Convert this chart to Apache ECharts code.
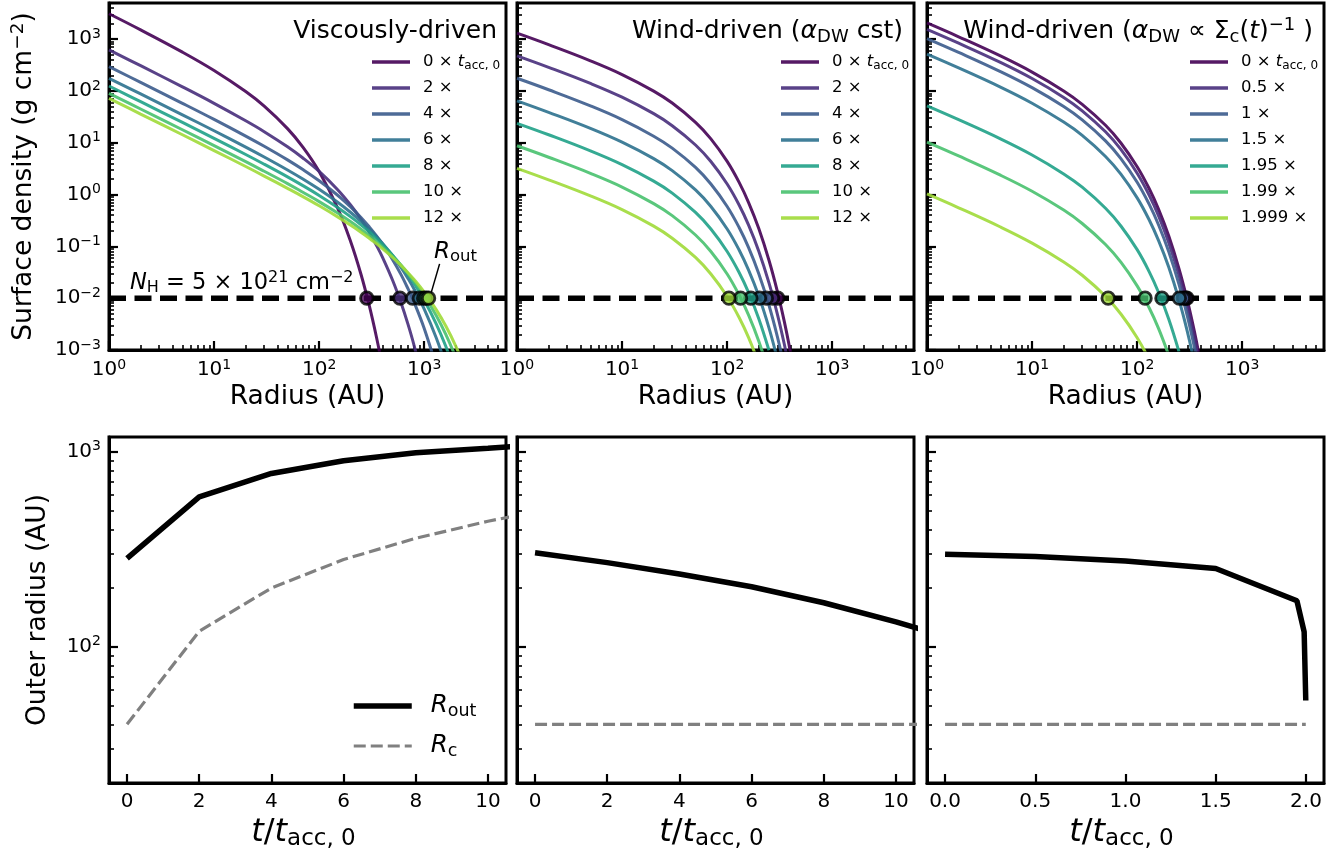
<!DOCTYPE html>
<html><head><meta charset="utf-8">
<script src="https://cdn.jsdelivr.net/npm/echarts@6/dist/echarts.min.js"></script>
<style>html,body{margin:0;padding:0;background:#fff}#c{width:1340px;height:858px}</style>
</head><body><div id="c"></div>
<script>
// ================= DATA =================
// Top row: surface density profiles, radius in AU
const viscRadius = [1,2,5,10,20,30,50,70,100,150,200,250,300,350,400,500,600,700,800,1000,1300,1600,2000,2500];
const viscSigma_t0  = [3100,1513,563,249,97.6,51.0,18.8,8.26,2.79,0.551,0.122,0.029,0.00716,0.00182,0.00047,0.000033];
const viscSigma_t2  = [621,308,120.3,57.8,26.6,16.4,8.37,5.09,2.80,1.245,0.624,0.334,0.186,0.106,0.0622,0.0222,0.00826,0.00316,0.00123,0.000197];
const viscSigma_t4  = [295,146.8,57.9,28.3,13.48,8.57,4.68,3.04,1.845,0.971,0.574,0.363,0.238,0.161,0.111,0.0554,0.0288,0.0153,0.00836,0.00259,0.00048];
const viscSigma_t6  = [176,87.7,34.7,17.1,8.26,5.32,2.99,2.0,1.262,0.712,0.451,0.305,0.215,0.156,0.115,0.066,0.0393,0.0241,0.0151,0.00616,0.00173,0.00051];
const viscSigma_t8  = [125,62.3,24.7,12.2,5.95,3.86,2.2,1.49,0.965,0.564,0.371,0.261,0.191,0.143,0.11,0.0677,0.0434,0.0287,0.0193,0.00915,0.00321,0.00119,0.00033];
const viscSigma_t10 = [90,44.9,17.85,8.83,4.33,2.82,1.63,1.11,0.733,0.44,0.298,0.215,0.161,0.124,0.0982,0.0638,0.0432,0.0301,0.0214,0.0113,0.00465,0.00203,0.000705,0.000199];
const viscSigma_t12 = [72,35.9,14.3,7.09,3.49,2.28,1.32,0.914,0.608,0.372,0.256,0.188,0.144,0.113,0.091,0.0614,0.0431,0.0311,0.023,0.0131,0.00601,0.00293,0.00118,0.000402];

const windRadius = [1,2,5,10,20,30,50,70,100,130,160,200,250,300,350,400,450];
const windSigma_t0  = [1306,784,383,208,99.7,58.5,24.8,11.9,4.37,1.72,0.702,0.221,0.0541,0.0137,0.00352,0.000915,0.00024];
const windSigma_t2  = [478,287,140,76.1,36.5,21.4,9.08,4.35,1.60,0.630,0.257,0.0809,0.0198,0.0050,0.00129,0.000335];
const windSigma_t4  = [176,105.7,51.6,28.0,13.4,7.88,3.34,1.60,0.590,0.232,0.0947,0.0298,0.0073,0.00184,0.000474];
const windSigma_t6  = [64.7,38.8,19.0,10.3,4.94,2.90,1.23,0.589,0.217,0.0852,0.0348,0.011,0.00268,0.000677];
const windSigma_t8  = [23.8,14.3,6.98,3.79,1.82,1.07,0.452,0.217,0.0797,0.0313,0.0128,0.00403,0.000987];
const windSigma_t10 = [8.76,5.26,2.57,1.40,0.669,0.392,0.166,0.0798,0.0294,0.0115,0.00471,0.00148,0.000363];
const windSigma_t12 = [3.22,1.93,0.944,0.513,0.246,0.144,0.0612,0.0293,0.0108,0.00424,0.00173,0.000545];

const dispRadius = [1,2,5,10,20,30,50,70,100,130,160,200,250,300,350,400,450];
const dispSigma_t0    = [2060,1115,475,232,100.4,55.4,21.8,9.92,3.46,1.31,0.518,0.158,0.0373,0.00917,0.00231,0.000588];
const dispSigma_t05   = [1545,836,356,174,75.3,41.5,16.3,7.44,2.59,0.980,0.388,0.118,0.028,0.00688,0.00173,0.000441];
const dispSigma_t1    = [1030,557,237,116,50.2,27.7,10.9,4.96,1.73,0.653,0.259,0.0788,0.0186,0.00458,0.00115,0.000294];
const dispSigma_t15   = [515,279,119,58.1,25.1,13.9,5.44,2.48,0.865,0.327,0.129,0.0394,0.00932,0.00229,0.000576];
const dispSigma_t195  = [51.5,27.9,11.9,5.81,2.51,1.39,0.544,0.248,0.0865,0.0327,0.0129,0.00394,0.000932];
const dispSigma_t199  = [10.3,5.57,2.37,1.16,0.502,0.277,0.109,0.0496,0.0173,0.00653,0.00259,0.000788];
const dispSigma_t1999 = [1.03,0.557,0.237,0.116,0.0502,0.0277,0.0109,0.00496,0.00173,0.000653];

const nhSigmaLevel = 0.01;   // N_H = 5e21 cm^-2 threshold

// Bottom row: outer radius and characteristic radius vs time
const viscTime = [0,2,4,6,8,10,12];
const viscRout = [284,587,774,899,988,1042,1100];
const viscRc   = [40,120,200,280,360,440,520];
const windTime = [0,2,4,6,8,10,12];
const windRout = [303,270,236,203,168,134,104];
const windRc   = [40,40,40,40,40,40,40];
const dispTime = [0,0.5,1,1.5,1.95,1.99,1.999];
const dispRout = [298,290,275,252,172,119,53];
const dispRc   = [40,40,40,40,40,40,40];

// Legend labels
const viscLabels = ['0','2','4','6','8','10','12'];
const windLabels = ['0','2','4','6','8','10','12'];
const dispLabels = ['0','0.5','1','1.5','1.95','1.99','1.999'];

// Axis ranges and ticks
const radiusRange = [1, 6000];
const sigmaRange = [0.001, 5000];
const radiusMajor = [1,10,100,1000];
const sigmaMajor = [0.001,0.01,0.1,1,10,100,1000];
const routRange = [20, 1190];
const routMajor = [100, 1000];
const timeRangeLong = [-0.5, 10.5];
const timeRangeShort = [-0.1, 2.1];
const timeTicksLong = [0,2,4,6,8,10];
const timeTicksShort = [0,0.5,1,1.5,2];
const routLeader = [[1165,0.0128],[1400,0.046]];

// ================= STYLE / BUILD =================
const FONT = 'DejaVu Sans';
const COLORS = ['#440154','#472d7b','#3b5b8c','#2c718e','#1fa187','#48c16e','#a0da39'];

function minorsOf(lo, hi) {
  const out = [];
  const e0 = Math.floor(Math.log10(lo)), e1 = Math.ceil(Math.log10(hi));
  for (let e = e0; e <= e1; e++) for (let m = 2; m <= 9; m++) {
    const v = +(m * Math.pow(10, e)).toPrecision(6);
    if (v > lo * 1.000001 && v < hi) out.push(v);
  }
  return out;
}
function powLabel(v) {
  const e = Math.round(Math.log10(v));
  return '{b|10}{s|' + (e < 0 ? '\u2212' + (-e) : e) + '}';
}
const tickRich = {
  b: {fontFamily: FONT, fontSize: 20, color: '#000', lineHeight: 24},
  s: {fontFamily: FONT, fontSize: 14, color: '#000', lineHeight: 11, verticalAlign: 'top'}
};
const majorTick = (vals) => ({show: true, inside: true, length: 9, customValues: vals, lineStyle: {color: '#000', width: 2.2}});
const minorTick = (vals) => ({show: true, inside: true, length: 5, customValues: vals, lineStyle: {color: '#000', width: 1.6}});
const axisLine = {show: true, onZero: false, lineStyle: {color: '#000', width: 3}};
const noLine = {show: false, onZero: false};

const colLeft = [109, 517, 927];
const colWidth = 397;
const grids = [];
for (let c = 0; c < 3; c++) grids.push({left: colLeft[c], width: colWidth, top: 3, height: 347, show: true, borderColor: '#000', borderWidth: 3, containLabel: false, outerBoundsMode: 'none'});
for (let c = 0; c < 3; c++) grids.push({left: colLeft[c], width: colWidth, top: 437, height: 346, show: true, borderColor: '#000', borderWidth: 3, containLabel: false, outerBoundsMode: 'none'});

const xAxes = [], yAxes = [], series = [], legends = [];
const nameStyle = {fontFamily: FONT, fontSize: 26.5, color: '#000'};

// top row axes
for (let c = 0; c < 3; c++) {
  const g = c;
  xAxes.push({type: 'log', gridIndex: g, min: radiusRange[0], max: radiusRange[1], position: 'bottom',
    axisLine, axisTick: majorTick(radiusMajor), splitLine: {show: false},
    axisLabel: {show: true, customValues: radiusMajor, formatter: powLabel, margin: 8, rich: tickRich, fontSize: 20, color: '#000', fontFamily: FONT},
    name: 'Radius (AU)', nameLocation: 'middle', nameGap: 34, nameTextStyle: nameStyle});
  xAxes.push({type: 'log', gridIndex: g, min: radiusRange[0], max: radiusRange[1], position: 'bottom',
    axisLine: noLine, axisTick: minorTick(minorsOf(radiusRange[0], radiusRange[1])), axisLabel: {show: false}, splitLine: {show: false}});
  yAxes.push({type: 'log', gridIndex: g, min: sigmaRange[0], max: sigmaRange[1], position: 'left',
    axisLine, axisTick: majorTick(sigmaMajor), splitLine: {show: false},
    axisLabel: {show: c === 0, customValues: sigmaMajor, formatter: powLabel, margin: 8, rich: tickRich, fontSize: 20, color: '#000', fontFamily: FONT},
    name: c === 0 ? 'Surface density (g cm{s|\u22122})' : '', nameLocation: 'middle', nameRotate: 90, nameGap: 70,
    nameTextStyle: {fontFamily: FONT, fontSize: 26.5, color: '#000', lineHeight: 30, rich: {s: {fontFamily: FONT, fontSize: 18.5, lineHeight: 14, verticalAlign: 'top'}}}});
  yAxes.push({type: 'log', gridIndex: g, min: sigmaRange[0], max: sigmaRange[1], position: 'left',
    axisLine: noLine, axisTick: minorTick(minorsOf(sigmaRange[0], sigmaRange[1])), axisLabel: {show: false}, splitLine: {show: false}});
}
// bottom row axes
const tName = '{it|t}/{it|t}{sub|acc, 0}';
const tNameStyle = {fontFamily: FONT, fontSize: 32, color: '#000', rich: {
  it: {fontFamily: FONT, fontSize: 32, fontStyle: 'italic', lineHeight: 36},
  sub: {fontFamily: FONT, fontSize: 23, lineHeight: 18, verticalAlign: 'bottom'}}};
for (let c = 0; c < 3; c++) {
  const g = 3 + c;
  const tr = c === 2 ? timeRangeShort : timeRangeLong;
  const tt = c === 2 ? timeTicksShort : timeTicksLong;
  xAxes.push({type: 'value', gridIndex: g, min: tr[0], max: tr[1], position: 'bottom',
    axisLine, axisTick: majorTick(tt), splitLine: {show: false},
    axisLabel: {show: true, customValues: tt, formatter: (v) => c === 2 ? (+v).toFixed(1) : String(Math.round(v)), margin: 9, fontSize: 20, color: '#000', fontFamily: FONT},
    name: tName, nameLocation: 'middle', nameGap: 32, nameTextStyle: Object.assign({padding: [0, 8, 0, 0]}, tNameStyle)});
  xAxes.push({type: 'value', gridIndex: g, min: tr[0], max: tr[1], position: 'bottom', axisLine: noLine, axisTick: {show: false}, axisLabel: {show: false}, splitLine: {show: false}});
  yAxes.push({type: 'log', gridIndex: g, min: routRange[0], max: routRange[1], position: 'left',
    axisLine, axisTick: majorTick(routMajor), splitLine: {show: false},
    axisLabel: {show: c === 0, customValues: routMajor, formatter: powLabel, margin: 8, rich: tickRich, fontSize: 20, color: '#000', fontFamily: FONT},
    name: c === 0 ? 'Outer radius (AU)' : '', nameLocation: 'middle', nameRotate: 90, nameGap: 57, nameTextStyle: nameStyle});
  yAxes.push({type: 'log', gridIndex: g, min: routRange[0], max: routRange[1], position: 'left',
    axisLine: noLine, axisTick: minorTick(minorsOf(routRange[0], routRange[1])), axisLabel: {show: false}, splitLine: {show: false}});
}

// top row series
const panels = [
  {radius: viscRadius, sigmas: [viscSigma_t0,viscSigma_t2,viscSigma_t4,viscSigma_t6,viscSigma_t8,viscSigma_t10,viscSigma_t12], rout: viscRout, labels: viscLabels, key: 'v'},
  {radius: windRadius, sigmas: [windSigma_t0,windSigma_t2,windSigma_t4,windSigma_t6,windSigma_t8,windSigma_t10,windSigma_t12], rout: windRout, labels: windLabels, key: 'w'},
  {radius: dispRadius, sigmas: [dispSigma_t0,dispSigma_t05,dispSigma_t1,dispSigma_t15,dispSigma_t195,dispSigma_t199,dispSigma_t1999], rout: dispRout, labels: dispLabels, key: 'd'}
];
const legendLabelMap = {};
panels.forEach((p, c) => {
  const names = [];
  p.sigmas.forEach((s, k) => {
    const name = p.key + k;
    names.push(name);
    legendLabelMap[name] = k === 0 ? p.labels[k] + ' \u00d7 {it|t}{sub|acc, 0}' : p.labels[k] + ' \u00d7';
    series.push({type: 'line', name, xAxisIndex: 2 * c, yAxisIndex: 2 * c, data: s.map((v, i) => [p.radius[i], v]),
      showSymbol: false, symbol: 'none', smooth: 0.4, clip: true, z: 2,
      color: COLORS[k], lineStyle: {color: COLORS[k], width: 3, opacity: 0.9}, emphasis: {disabled: true}});
  });
  series.push({type: 'line', name: 'nh' + c, xAxisIndex: 2 * c, yAxisIndex: 2 * c,
    data: [[radiusRange[0], nhSigmaLevel], [radiusRange[1], nhSigmaLevel]], showSymbol: false, symbol: 'none', z: 3,
    lineStyle: {color: '#000', width: 5.5, type: [17, 8.5]}, emphasis: {disabled: true}});
  series.push({type: 'scatter', name: 'mk' + c, xAxisIndex: 2 * c, yAxisIndex: 2 * c, z: 4, symbolSize: 12.5,
    data: p.rout.map((r, k) => ({value: [r, nhSigmaLevel], itemStyle: {color: COLORS[k], borderColor: '#000', borderWidth: 2.8}})),
    emphasis: {disabled: true}});
  legends.push({orient: 'vertical', left: [372, 781, 1190][c], top: 52, padding: 0, data: names, icon: 'rect', itemWidth: 38, itemHeight: 3.5, itemGap: 6,
    selectedMode: false, formatter: (n) => legendLabelMap[n], itemStyle: {opacity: 0.9},
    textStyle: {fontFamily: FONT, fontSize: 16.5, color: '#000', lineHeight: 20, padding: [0, 0, 0, 8], rich: {
      it: {fontFamily: FONT, fontSize: 16.5, fontStyle: 'italic', lineHeight: 20},
      sub: {fontFamily: FONT, fontSize: 12, lineHeight: 10, verticalAlign: 'bottom'}}}});
});
// leader line for R_out annotation
series.push({type: 'line', name: 'leader', xAxisIndex: 0, yAxisIndex: 0, data: routLeader, showSymbol: false, symbol: 'none', z: 5,
  lineStyle: {color: '#000', width: 1.5}, emphasis: {disabled: true}});

// bottom row series
const bottom = [
  {t: viscTime, rout: viscRout, rc: viscRc},
  {t: windTime, rout: windRout, rc: windRc},
  {t: dispTime, rout: dispRout, rc: dispRc}
];
bottom.forEach((b, c) => {
  const ax = 2 * (3 + c);
  series.push({type: 'line', name: 'Rout' + c, xAxisIndex: ax, yAxisIndex: ax, data: b.t.map((t, i) => [t, b.rout[i]]),
    showSymbol: false, symbol: 'none', z: 3, color: '#000', lineStyle: {color: '#000', width: 5.5}, emphasis: {disabled: true}});
  series.push({type: 'line', name: 'Rc' + c, xAxisIndex: ax, yAxisIndex: ax, data: b.t.map((t, i) => [t, b.rc[i]]),
    showSymbol: false, symbol: 'none', z: 2, color: '#808080', lineStyle: {color: '#808080', width: 3.2, type: [12, 5]}, emphasis: {disabled: true}});
});
legends.push({orient: 'vertical', left: 351, top: 692, padding: 0, data: ['Rout0', 'Rc0'], itemWidth: 58, itemHeight: 14, itemGap: 12, selectedMode: false,
  itemStyle: {color: 'rgba(0,0,0,0)', borderWidth: 0, opacity: 0},
  lineStyle: {width: 'inherit', type: 'inherit', color: 'inherit'},
  formatter: (n) => n === 'Rout0' ? '{it|R}{sub|out}' : '{it|R}{sub|c}',
  textStyle: {fontFamily: FONT, fontSize: 24.5, color: '#000', lineHeight: 28, padding: [0, 0, 0, 14], rich: {
    it: {fontFamily: FONT, fontSize: 24.5, fontStyle: 'italic', lineHeight: 28},
    sub: {fontFamily: FONT, fontSize: 17.5, lineHeight: 14, verticalAlign: 'bottom'}}}});

// titles
const titleRich = {
  it: {fontFamily: FONT, fontSize: 25, fontStyle: 'italic', lineHeight: 30},
  sub: {fontFamily: FONT, fontSize: 18, lineHeight: 14, verticalAlign: 'bottom'},
  sup: {fontFamily: FONT, fontSize: 18, lineHeight: 12, verticalAlign: 'top'}
};
const titleTexts = ['Viscously-driven', 'Wind-driven ({it|\u03b1}{sub|DW} cst)', 'Wind-driven ({it|\u03b1}{sub|DW} \u221d \u03a3{sub|c}({it|t}){sup|\u22121} )'];
const titleRight = [843, 437, 27];
const titles = titleTexts.map((t, i) => ({text: t, right: titleRight[i], top: 16, padding: 0,
  textStyle: {fontFamily: FONT, fontSize: 25, fontWeight: 'normal', color: '#000', lineHeight: 30, rich: titleRich}}));

const chart = echarts.init(document.getElementById('c'), null, {renderer: 'canvas'});
chart.setOption({
  animation: false, backgroundColor: '#fff',
  title: titles, grid: grids, xAxis: xAxes, yAxis: yAxes, series, legend: legends,
  graphic: [
    {type: 'text', left: 130, top: 270, z: 10, style: {text: '{it|N}{sub|H} = 5 \u00d7 10{sup|21} cm{sup|\u22122}', fill: '#000', font: '22.5px "DejaVu Sans"',
      rich: {it: {fontFamily: FONT, fontSize: 22.5, fontStyle: 'italic', lineHeight: 26}, sub: {fontFamily: FONT, fontSize: 16, lineHeight: 13, verticalAlign: 'bottom'},
             sup: {fontFamily: FONT, fontSize: 16, lineHeight: 11, verticalAlign: 'top'}}, lineHeight: 26}},
    {type: 'text', left: 434, top: 239, z: 10, style: {text: '{it|R}{sub|out}', fill: '#000', font: '23px "DejaVu Sans"',
      rich: {it: {fontFamily: FONT, fontSize: 23, fontStyle: 'italic', lineHeight: 26}, sub: {fontFamily: FONT, fontSize: 16.5, lineHeight: 13, verticalAlign: 'bottom'}}, lineHeight: 26}}
  ]
});
</script>
</body></html>
